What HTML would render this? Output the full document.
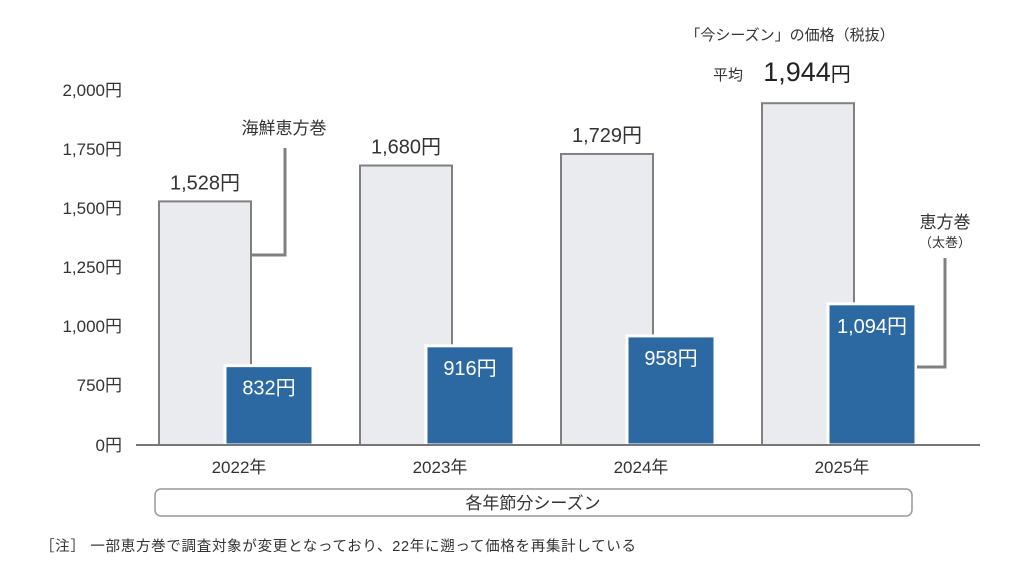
<!DOCTYPE html>
<html><head><meta charset="utf-8"><style>
body{margin:0;background:#fff;width:1024px;height:568px;overflow:hidden;font-family:"Liberation Sans","Noto Sans CJK JP",sans-serif;}
svg text{font-family:"Liberation Sans","Noto Sans CJK JP",sans-serif;}
</style></head><body>
<svg id="chart" width="1024" height="568">
<g id="axis"></g><g id="bars"></g><g id="ann"></g>
</svg>
<script>
const years=["2022年","2023年","2024年","2025年"];
const seafood=[1528,1680,1729,1944];
const futomaki=[832,916,958,1094];
const tickVals=[0,750,1000,1250,1500,1750,2000];
const tickLabels=["0円","750円","1,000円","1,250円","1,500円","1,750円","2,000円"];
const NS="http://www.w3.org/2000/svg";
function y(v){return v<=750?445-v*(60/750):385-(v-750)*59/250;}
function x(i){return 159+i*201;}
function el(t,a,p,txt){const e=document.createElementNS(NS,t);for(const k in a)e.setAttribute(k,a[k]);if(txt!=null)e.textContent=txt;p.appendChild(e);return e;}
function fmt(v){return v.toLocaleString("en-US")+"円";}
const ax=document.getElementById("axis"),bg=document.getElementById("bars"),an=document.getElementById("ann");
tickVals.forEach((v,i)=>{
 const t=el("text",{x:122,y:y(v)+6,"text-anchor":"end","font-size":17,fill:"#333"},ax,tickLabels[i]);
 
 
});
years.forEach((yr,i)=>{
 const gx=x(i),gy=y(seafood[i]);
 const g=el("rect",{x:gx,y:gy,width:92,height:445-gy,fill:"#e9ebee",stroke:"#808080","stroke-width":2},bg);
 
 
 const bx=gx+66,by=y(futomaki[i]);
 const b=el("rect",{x:bx,y:by,width:88,height:445-by,fill:"#2c69a2",stroke:"#fff","stroke-width":3},bg);
 
 
 const bl=el("text",{x:bx+44,y:by+29,"text-anchor":"middle","font-size":20,fill:"#fff"},bg,fmt(futomaki[i]));
 
 
 if(i<3){
  const sl=el("text",{x:gx+46,y:gy-12,"text-anchor":"middle","font-size":20,fill:"#333"},bg,fmt(seafood[i]));
  
  
 }
 const xl=el("text",{x:gx+80,y:473,"text-anchor":"middle","font-size":17,fill:"#333"},ax,yr);
 
 
});
</script>
<svg width="1024" height="568" style="position:absolute;left:0;top:0">
<line x1="136" y1="445" x2="980" y2="445" stroke="#777" stroke-width="2"/>
<polyline points="252,255 285,255 285,148" fill="none" stroke="#808080" stroke-width="3"/>
<text x="284" y="134" text-anchor="middle" font-size="17" fill="#333">海鮮恵方巻</text>
<polyline points="917,367 945,367 945,258" fill="none" stroke="#808080" stroke-width="3"/>
<text x="945" y="228" text-anchor="middle" font-size="17" fill="#333">恵方巻</text>
<text x="945" y="247" text-anchor="middle" font-size="13" fill="#333">（太巻）</text>
<text x="790" y="40" text-anchor="middle" font-size="15" fill="#333">「今シーズン」の価格（税抜）</text>
<text x="728" y="80" text-anchor="middle" font-size="15" fill="#333">平均</text>
<text x="807" y="81" text-anchor="middle" font-size="27" fill="#222">1,944<tspan font-size="20">円</tspan></text>
<rect x="155" y="489" width="757" height="27" rx="6" fill="#fff" stroke="#999" stroke-width="1.5"/>
<text x="533" y="509" text-anchor="middle" font-size="17" fill="#333">各年節分シーズン</text>
<text x="40" y="551" font-size="14.5" fill="#333" textLength="596">［注］ 一部恵方巻で調査対象が変更となっており、22年に遡って価格を再集計している</text>
</svg>
</body></html>
